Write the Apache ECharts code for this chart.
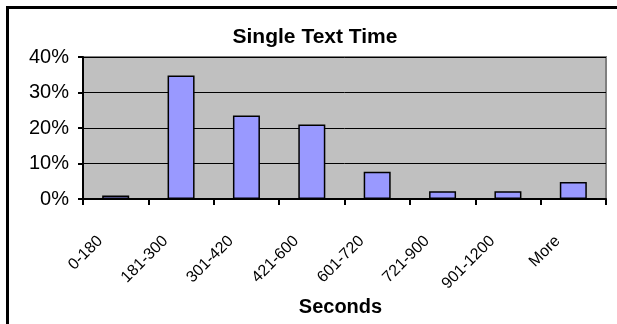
<!DOCTYPE html>
<html>
<head>
<meta charset="utf-8">
<script src="https://cdn.jsdelivr.net/npm/echarts@6/dist/echarts.min.js"></script>
<style>
  html, body { margin: 0; padding: 0; background: #fff; }
  #wrap { position: relative; width: 617px; height: 324px; }
  #chart { width: 617px; height: 324px; }
  #frame { position: absolute; left: 6px; top: 6px; right: 0; bottom: 0;
           border-left: 3px solid #000; border-top: 3px solid #000; pointer-events: none; }
</style>
</head>
<body>
<div id="wrap">
  <div id="chart"></div>
  <div id="frame"></div>
</div>
<script>
// bins (seconds)
var categories = ['0-180', '181-300', '301-420', '421-600', '601-720', '721-900', '901-1200', 'More'];
// share of texts, percent
var shares = [1.0, 34.8, 23.5, 21.0, 7.7, 2.2, 2.2, 4.8];
var yTicks = [0, 10, 20, 30, 40];

var chart = echarts.init(document.getElementById('chart'));
var option = {
    animation: false,
    textStyle: { fontFamily: 'Liberation Sans, Arial, sans-serif', color: '#000' },
    title: {
        text: 'Single Text Time',
        left: 310, top: 22, textAlign: 'center',
        textStyle: { fontSize: 21, fontWeight: 'bold', color: '#000' }
    },
    grid: {
        left: 83, right: 11, top: 57, bottom: 125,
        show: true, backgroundColor: '#c0c0c0', borderColor: '#808080', borderWidth: 2
    },
    xAxis: {
        type: 'category',
        data: categories,
        name: 'Seconds',
        nameLocation: 'middle',
        nameGap: 98,
        nameTextStyle: { fontSize: 20, fontWeight: 'bold', color: '#000', padding: [0, 8, 0, 0] },
        axisLine: { lineStyle: { color: '#000', width: 2 } },
        axisTick: { show: true, length: 6, lineStyle: { color: '#000', width: 2 } },
        axisLabel: {
            rotate: 45, margin: 24, fontSize: 16, color: '#000',
            padding: [0, 22, 0, 0], interval: 0
        }
    },
    yAxis: {
        type: 'value',
        min: yTicks[0], max: yTicks[yTicks.length - 1], interval: 10,
        axisLine: { show: true, lineStyle: { color: '#000', width: 2 } },
        axisTick: { show: true, length: 5, lineStyle: { color: '#000', width: 2 } },
        axisLabel: { fontSize: 20, margin: 14, color: '#000', formatter: '{value}%' },
        splitLine: { lineStyle: { color: '#000', width: 1 } }
    },
    series: [{
        type: 'bar',
        data: shares,
        barWidth: 27,
        itemStyle: { color: '#9999ff', borderColor: '#000', borderWidth: 1.5 }
    }]
};
chart.setOption(option);
</script>
</body>
</html>
